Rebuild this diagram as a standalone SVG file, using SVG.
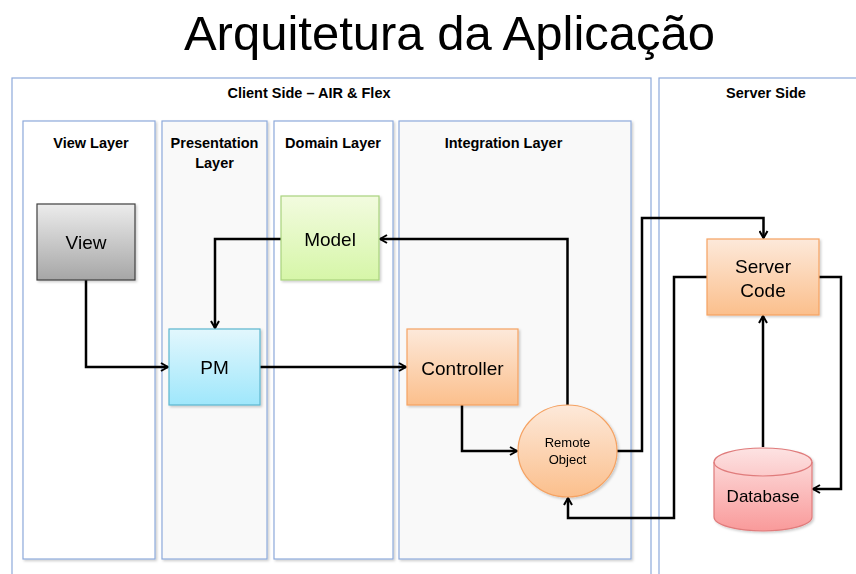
<svg xmlns="http://www.w3.org/2000/svg" width="856" height="574" viewBox="0 0 856 574">
<style>
text{font-family:"Liberation Sans",Arial,sans-serif;fill:#000}
.title{font-size:49px}
.hdr{font-size:14.5px;font-weight:bold;text-anchor:middle}
.nt{font-size:19px;text-anchor:middle}
.small{font-size:13px;text-anchor:middle}
.box{stroke:#8eaadb;stroke-width:1.2}
.lane{stroke:#8eaadb;stroke-width:1.2;filter:url(#sh)}
.conn{fill:none;stroke:#000;stroke-width:2.5;stroke-linejoin:miter}
</style>
<defs>
<filter id="sh" x="-5%" y="-5%" width="115%" height="115%">
<feDropShadow dx="1.5" dy="1.5" stdDeviation="1" flood-color="#000" flood-opacity="0.2"/>
</filter>
<linearGradient id="gGray" x1="0" y1="0" x2="0" y2="1"><stop offset="0" stop-color="#ececec"/><stop offset="1" stop-color="#a6a6a6"/></linearGradient>
<linearGradient id="gGreen" x1="0" y1="0" x2="0" y2="1"><stop offset="0" stop-color="#f2fbdf"/><stop offset="1" stop-color="#d6f6a8"/></linearGradient>
<linearGradient id="gBlue" x1="0" y1="0" x2="0" y2="1"><stop offset="0" stop-color="#e2f7fd"/><stop offset="1" stop-color="#9fe7fb"/></linearGradient>
<linearGradient id="gOrange" x1="0" y1="0" x2="0" y2="1"><stop offset="0" stop-color="#fde9da"/><stop offset="1" stop-color="#fbbf8c"/></linearGradient>
<linearGradient id="gPink" x1="0" y1="0" x2="0" y2="1"><stop offset="0" stop-color="#fde3e3"/><stop offset="1" stop-color="#f99a9a"/></linearGradient>
<marker id="arr" viewBox="0 0 10 10" refX="9" refY="5" markerWidth="10" markerHeight="10" markerUnits="userSpaceOnUse" orient="auto">
<path d="M2,1 L9,5 L2,9" fill="none" stroke="#000" stroke-width="2"/>
</marker>
</defs>
<rect width="856" height="574" fill="#fff"/>
<text class="title" x="449.5" y="50" text-anchor="middle">Arquitetura da Aplicação</text>

<g id="client-side">
<rect class="box" x="12" y="78" width="639" height="510" fill="#fff"/>
<text class="hdr" x="309" y="98">Client Side – AIR &amp; Flex</text>
</g>
<g id="server-side">
<rect class="box" x="659" y="78" width="210" height="510" fill="#fff"/>
<text class="hdr" x="766" y="98">Server Side</text>
</g>
<g id="view-layer">
<rect class="lane" x="23" y="121" width="132" height="438" fill="#fff"/>
<text class="hdr" x="91" y="148">View Layer</text>
</g>
<g id="presentation-layer">
<rect class="lane" x="162" y="121" width="105" height="438" fill="#f9f9f9"/>
<text class="hdr" x="214.5" y="148">Presentation</text>
<text class="hdr" x="214.5" y="168">Layer</text>
</g>
<g id="domain-layer">
<rect class="lane" x="274" y="121" width="119" height="438" fill="#fff"/>
<text class="hdr" x="333" y="148">Domain Layer</text>
</g>
<g id="integration-layer">
<rect class="lane" x="399" y="121" width="232" height="438" fill="#f9f9f9"/>
<text class="hdr" x="503.5" y="148">Integration Layer</text>
</g>

<g id="connectors">
<path class="conn" d="M86,280 V367 H168" marker-end="url(#arr)"/>
<path class="conn" d="M281,239 H215 V328" marker-end="url(#arr)"/>
<path class="conn" d="M260,367 H406" marker-end="url(#arr)"/>
<path class="conn" d="M567.5,405 V239 H380" marker-end="url(#arr)"/>
<path class="conn" d="M462,405 V451 H517" marker-end="url(#arr)"/>
<path class="conn" d="M617,451 H642 V218 H763.5 V238" marker-end="url(#arr)"/>
<path class="conn" d="M707,277 H674 V518 H568 V498" marker-end="url(#arr)"/>
<path class="conn" d="M763,447 V316" marker-end="url(#arr)"/>
<path class="conn" d="M819,277 H841 V489 H813" marker-end="url(#arr)"/>
</g>

<g id="view" filter="url(#sh)">
<rect x="37" y="204" width="98" height="76" fill="url(#gGray)" stroke="#404040" stroke-width="1.2"/>
<text class="nt" x="86" y="249">View</text>
</g>
<g id="model" filter="url(#sh)">
<rect x="281" y="196" width="98" height="84" fill="url(#gGreen)" stroke="#a9d37e" stroke-width="1.2"/>
<text class="nt" x="330" y="246">Model</text>
</g>
<g id="pm" filter="url(#sh)">
<rect x="169" y="329" width="91" height="76" fill="url(#gBlue)" stroke="#5cb6cf" stroke-width="1.2"/>
<text class="nt" x="214.5" y="374">PM</text>
</g>
<g id="controller" filter="url(#sh)">
<rect x="407" y="329" width="111" height="76" fill="url(#gOrange)" stroke="#f5a262" stroke-width="1.2"/>
<text class="nt" x="462.5" y="375">Controller</text>
</g>
<g id="remote-object" filter="url(#sh)">
<ellipse cx="567.5" cy="451" rx="49.5" ry="46" fill="url(#gOrange)" stroke="#f5a262" stroke-width="1.2"/>
<text class="small" x="567.5" y="447">Remote</text>
<text class="small" x="567.5" y="464">Object</text>
</g>
<g id="server-code" filter="url(#sh)">
<rect x="707" y="239" width="112" height="76" fill="url(#gOrange)" stroke="#f5a262" stroke-width="1.2"/>
<text class="nt" x="763" y="273">Server</text>
<text class="nt" x="763" y="297">Code</text>
</g>
<g id="database" filter="url(#sh)">
<path d="M714,462 V517 A49,14 0 0 0 812,517 V462 A49,14 0 0 0 714,462 Z" fill="url(#gPink)" stroke="#e07b7b" stroke-width="1.2"/>
<path d="M714,462 A49,14 0 0 0 812,462" fill="none" stroke="#e07b7b" stroke-width="1.2"/>
<text x="763" y="502" font-size="17px" text-anchor="middle">Database</text>
</g>
</svg>
